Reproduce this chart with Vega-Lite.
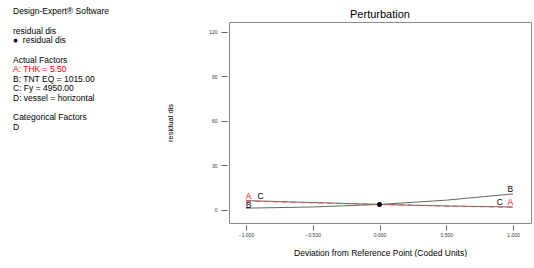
{
  "$schema": "https://vega.github.io/schema/vega-lite/v6.json",
  "padding": {"left": 13, "top": 7, "right": 0, "bottom": 0},
  "autosize": {"type": "pad"},
  "spacing": 43,
  "resolve": {"scale": {"color": "independent"}},
  "config": {"font": "Liberation Sans", "view": {"stroke": null}},
  "hconcat": [
    {
      "width": 110,
      "height": 105,
      "data": {"values": [
        {"line": 0, "text": "Design-Expert® Software", "kind": "plain"},
        {"line": 2, "text": "residual dis", "kind": "plain"},
        {"line": 3, "text": "\u00a0●\u00a0\u00a0residual dis", "kind": "plain"},
        {"line": 5, "text": "Actual Factors", "kind": "plain"},
        {"line": 6, "text": "A: THK = 5.50", "kind": "highlight"},
        {"line": 7, "text": "B: TNT EQ = 1015.00", "kind": "plain"},
        {"line": 8, "text": "C: Fy = 4950.00", "kind": "plain"},
        {"line": 9, "text": "D: vessel = horizontal", "kind": "plain"},
        {"line": 11, "text": "Categorical Factors", "kind": "plain"},
        {"line": 12, "text": "D", "kind": "plain"}
      ]},
      "mark": {"type": "text", "align": "left", "baseline": "middle", "fontSize": 8.5},
      "encoding": {
        "x": {"value": 0},
        "y": {"field": "line", "type": "quantitative", "scale": {"domain": [1.1, 12], "reverse": true, "nice": false, "zero": false}, "axis": null},
        "text": {"field": "text"},
        "color": {"field": "kind", "type": "nominal", "scale": {"domain": ["highlight", "plain"], "range": ["#ff0000", "#000000"]}, "legend": null}
      }
    },
    {
      "width": 302,
      "height": 201,
      "title": {"text": "Perturbation", "fontSize": 11, "fontWeight": "normal", "offset": 2, "color": "#000"},
      "view": {"stroke": "#888", "strokeWidth": 1},
      "encoding": {
        "x": {"field": "x", "type": "quantitative",
          "scale": {"domain": [-1.127, 1.134], "nice": false, "zero": false},
          "axis": {"values": [-1, -0.5, 0, 0.5, 1], "format": ".3f", "labelFontSize": 5, "tickSize": 5, "offset": 2, "domain": false, "grid": false,
            "labelPadding": 2, "labelColor": "#333", "tickColor": "#666",
            "title": "Deviation from Reference Point (Coded Units)", "titleFontSize": 8.5, "titleFontWeight": "normal", "titlePadding": 11, "titleColor": "#000"}},
        "y": {"field": "y", "type": "quantitative",
          "scale": {"domain": [-8.8, 126.7], "nice": false, "zero": false},
          "axis": {"values": [0, 30, 60, 90, 120], "labelFontSize": 5, "tickSize": 6, "offset": 2, "domain": false, "grid": false,
            "labelPadding": 4, "labelColor": "#333", "tickColor": "#666",
            "title": "residual dis", "titleFontSize": 7.5, "titleFontWeight": "normal", "titlePadding": 34, "titleColor": "#000"}}
      },
      "layer": [
        {
          "data": {"values": [
            {"series": "B", "x": -1, "y": 1.2}, {"series": "B", "x": -0.5, "y": 2.0}, {"series": "B", "x": 0, "y": 3.7}, {"series": "B", "x": 0.5, "y": 6.6}, {"series": "B", "x": 1, "y": 10.8},
            {"series": "C", "x": -1, "y": 6.3}, {"series": "C", "x": -0.5, "y": 5.0}, {"series": "C", "x": 0, "y": 3.7}, {"series": "C", "x": 0.5, "y": 2.7}, {"series": "C", "x": 1, "y": 2.0}
          ]},
          "mark": {"type": "line", "strokeWidth": 1, "color": "#666"},
          "encoding": {"detail": {"field": "series"}}
        },
        {
          "data": {"values": [
            {"series": "A", "x": -1, "y": 6.0}, {"series": "A", "x": -0.5, "y": 4.8}, {"series": "A", "x": 0, "y": 3.7}, {"series": "A", "x": 0.5, "y": 2.6}, {"series": "A", "x": 1, "y": 1.8}
          ]},
          "mark": {"type": "line", "strokeWidth": 1, "color": "#e05050", "strokeDash": [5, 4]},
          "encoding": {}
        },
        {
          "data": {"values": [{"x": 0, "y": 3.7}]},
          "mark": {"type": "point", "filled": true, "color": "#000", "size": 25, "opacity": 1},
          "encoding": {}
        },
        {
          "data": {"values": [
            {"series": "A", "x": -0.98, "y": 9.6},
            {"series": "C", "x": -0.89, "y": 9.6},
            {"series": "B", "x": -0.98, "y": 3.3},
            {"series": "B", "x": 0.98, "y": 14.2},
            {"series": "C", "x": 0.9, "y": 5.2},
            {"series": "A", "x": 0.98, "y": 5.2}
          ]},
          "mark": {"type": "text", "fontSize": 8.5, "align": "center", "baseline": "middle"},
          "encoding": {
            "text": {"field": "series"},
            "color": {"field": "series", "type": "nominal", "scale": {"domain": ["A", "B", "C"], "range": ["#ff0000", "#000000", "#000000"]}, "legend": null}
          }
        }
      ]
    }
  ]
}
